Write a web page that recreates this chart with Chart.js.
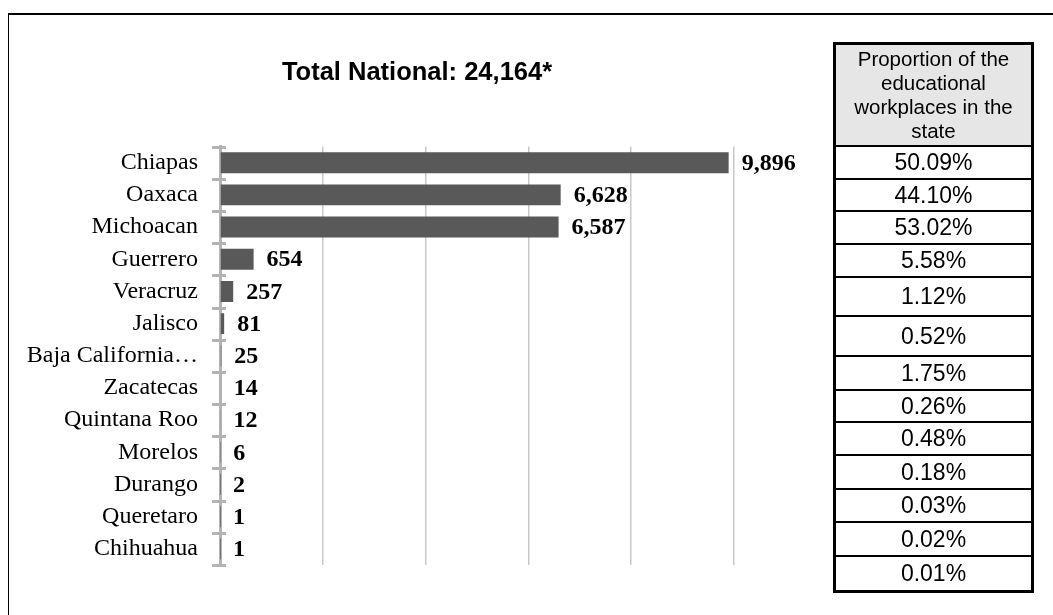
<!DOCTYPE html>
<html>
<head>
<meta charset="utf-8">
<script src="https://cdn.jsdelivr.net/npm/chart.js@4"></script>
<style>
  body { margin: 0; background: #fff; width: 1053px; height: 615px; overflow: hidden; position: relative; }
  #frame { position: absolute; left: 8px; top: 13px; width: 1100px; height: 700px;
           border-top: 2px solid #000; border-left: 1px solid #000; }
  #wrap { position: absolute; left: 0; top: 0; width: 834px; height: 615px; }
  #share { position: absolute; left: 833px; top: 42px; width: 201px; box-sizing: border-box;
           border: 3px solid #000; font-family: "Liberation Sans", Arial, sans-serif; color: #000; }
  #share .head { height: 102px; box-sizing: border-box; border-bottom: 2px solid #000;
                 background: #e6e6e6; font-size: 20.5px; line-height: 24px; text-align: center;
                 display: flex; align-items: center; justify-content: center; }
  #share .row { height: 33px; box-sizing: border-box; border-bottom: 2px solid #000; font-size: 23px;
                display: flex; align-items: center; justify-content: center; }
  #share .row:last-child { border-bottom: none; }
  #share .row:nth-child(3) { height: 32px; }
  #share .row:nth-child(6) { height: 39px; }
  #share .row:nth-child(7) { height: 40px; }
  #share .row:nth-child(8), #share .row:nth-child(11), #share .row:nth-child(13) { height: 34px; }
  #share .row:nth-child(9) { height: 32px; }
</style>
</head>
<body>
<div id="frame"></div>
<div id="wrap"><canvas id="chart"></canvas></div>
<div id="share"></div>
<script>
// states, educational workplaces (bars) and share within the state (table)
const states = ['Chiapas', 'Oaxaca', 'Michoacan', 'Guerrero', 'Veracruz', 'Jalisco',
  'Baja California…', 'Zacatecas', 'Quintana Roo', 'Morelos', 'Durango', 'Queretaro', 'Chihuahua'];
const workplaces = [9896, 6628, 6587, 654, 257, 81, 25, 14, 12, 6, 2, 1, 1];
const stateShare = ['50.09%', '44.10%', '53.02%', '5.58%', '1.12%', '0.52%', '1.75%',
  '0.26%', '0.48%', '0.18%', '0.03%', '0.02%', '0.01%'];
const titleText = 'Total National: 24,164*';
const tableHeader = ['Proportion of the', 'educational', 'workplaces in the', 'state'];

// table on the right
const box = document.getElementById('share');
const head = document.createElement('div');
head.className = 'head';
head.innerHTML = tableHeader.join('<br>');
box.appendChild(head);
stateShare.forEach(function (v) {
  const r = document.createElement('div');
  r.className = 'row';
  r.textContent = v;
  box.appendChild(r);
});

const axisGray = '#b4b4b4';

// value labels at the end of each bar
const barLabels = {
  id: 'barLabels',
  afterDatasetsDraw(chart) {
    const ctx = chart.ctx;
    const meta = chart.getDatasetMeta(0);
    ctx.save();
    ctx.font = 'bold 24px "Liberation Serif", "Times New Roman", serif';
    ctx.fillStyle = '#000';
    ctx.textBaseline = 'middle';
    ctx.textAlign = 'left';
    meta.data.forEach(function (bar, i) {
      ctx.fillText(workplaces[i].toLocaleString('en-US'), bar.x + 13, bar.y + 1);
    });
    ctx.restore();
  }
};

// cross tick marks on the category axis (Excel style)
const crossTicks = {
  id: 'crossTicks',
  afterDraw(chart) {
    const y = chart.scales.y;
    const ctx = chart.ctx;
    const n = states.length;
    const step = (y.bottom - y.top) / n;
    ctx.save();
    ctx.strokeStyle = axisGray;
    ctx.lineWidth = 3;
    for (let k = 0; k <= n; k++) {
      const py = Math.round(y.top + k * step) + 0.5;
      ctx.beginPath();
      ctx.moveTo(y.right - 8, py);
      ctx.lineTo(y.right + 6, py);
      ctx.stroke();
    }
    ctx.restore();
  }
};

new Chart(document.getElementById('chart'), {
  type: 'bar',
  data: {
    labels: states,
    datasets: [{
      data: workplaces,
      backgroundColor: '#595959',
      borderWidth: 0,
      barPercentage: 0.65,
      categoryPercentage: 1
    }]
  },
  options: {
    indexAxis: 'y',
    responsive: true,
    maintainAspectRatio: false,
    animation: false,
    layout: { padding: { top: 0, right: 0, bottom: 50, left: 0 } },
    plugins: {
      legend: { display: false },
      tooltip: { enabled: false },
      title: {
        display: true,
        text: titleText,
        color: '#000',
        font: { family: '"Liberation Sans", Arial, sans-serif', size: 25.5, weight: 'bold' },
        padding: { top: 58, bottom: 58 }
      }
    },
    scales: {
      x: {
        min: 0,
        max: 10000,
        ticks: { display: false, stepSize: 2000 },
        grid: { color: '#c8c8c8', lineWidth: 1.5, drawTicks: false },
        border: { display: false },
        afterFit: function (s) { s.height = 0; }
      },
      y: {
        ticks: {
          color: '#000',
          padding: 14,
          font: { family: '"Liberation Serif", "Times New Roman", serif', size: 24 }
        },
        grid: { display: false },
        border: { display: true, color: axisGray, width: 3 },
        afterFit: function (s) { s.width = 220; }
      },
      // empty right-hand axis that only reserves room for the value labels
      yRight: {
        type: 'category',
        position: 'right',
        ticks: { display: false },
        grid: { display: false },
        border: { display: false },
        afterFit: function (s) { s.width = 100; }
      }
    }
  },
  plugins: [barLabels, crossTicks]
});
</script>
</body>
</html>
